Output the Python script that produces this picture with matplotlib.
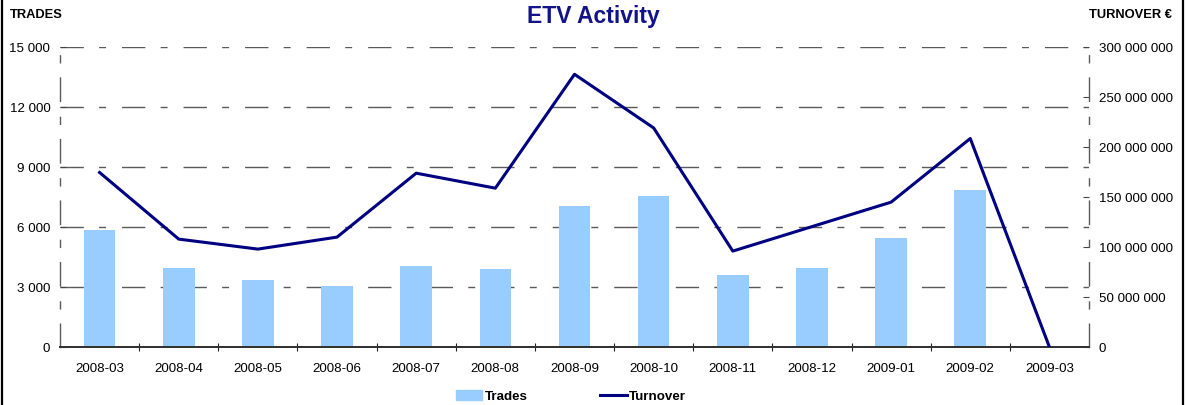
"""
plot.py - ETV Activity: monthly trades (bars) and turnover (line).
"""

import matplotlib
matplotlib.use("Agg")
import matplotlib.pyplot as plt
from matplotlib.lines import Line2D
from matplotlib.ticker import FuncFormatter, MultipleLocator

months = ["2008-03", "2008-04", "2008-05", "2008-06", "2008-07", "2008-08",
          "2008-09", "2008-10", "2008-11", "2008-12", "2009-01", "2009-02",
          "2009-03"]
trades = [5850, 3950, 3350, 3050, 4050, 3900, 7050, 7550, 3600, 3950,
          5450, 7850, 0]
turnover = [174.7e6, 108e6, 98e6, 110e6, 174e6, 159e6, 273e6, 219.3e6,
            96e6, 120.5e6, 145e6, 208.7e6, 0]

BAR_COLOR = "#99CCFF"
LINE_COLOR = "#000080"
GRID_COLOR = "#5a5a5a"
DASH = (0, (16.8, 11.0, 5.0, 11.5))

plt.rcParams["font.family"] = ["Liberation Sans", "DejaVu Sans"]
plt.rcParams["lines.scale_dashes"] = False


def spaced(v, pos):
    return f"{int(round(v)):,}".replace(",", " ")


fig = plt.figure(figsize=(11.86, 4.05), dpi=100)
ax = fig.add_axes([0.0506, 0.1432, 0.8676, 0.74])
ax2 = ax.twinx()

x = list(range(len(months)))
ax.bar(x, trades, width=0.4, color=BAR_COLOR, zorder=2, label="Trades")
ax2.plot(x, turnover, color=LINE_COLOR, lw=2.2, zorder=3, label="Turnover")

ax.set_xlim(-0.5, len(months) - 0.5)
ax.set_ylim(0, 15000)
ax2.set_ylim(0, 300e6)
ax.yaxis.set_major_locator(MultipleLocator(3000))
ax2.yaxis.set_major_locator(MultipleLocator(50e6))
ax.yaxis.set_major_formatter(FuncFormatter(spaced))
ax2.yaxis.set_major_formatter(FuncFormatter(spaced))

ax.set_xticks(x)
ax.set_xticklabels(months)
ax.set_xticks([i + 0.5 for i in x[:-1]], minor=True)
ax.tick_params(axis="x", which="major", length=0, pad=11.5, labelsize=9.6)
ax.tick_params(axis="x", which="minor", direction="inout", length=6,
               width=0.8, color="#222")
ax.tick_params(axis="y", length=4, direction="in", width=0.8, color="#444",
               labelsize=9.6, pad=7)
ax2.tick_params(axis="y", length=4, direction="in", width=0.8, color="#444",
                labelsize=9.6, pad=7)

ax.grid(axis="y", color=GRID_COLOR, lw=1.0, linestyle=DASH, zorder=0)
ax.set_axisbelow(True)

for a in (ax, ax2):
    a.spines["top"].set_visible(False)
    for side in ("left", "right"):
        a.spines[side].set_linestyle(DASH)
        a.spines[side].set_color(GRID_COLOR)
        a.spines[side].set_linewidth(1.0)
    a.spines["bottom"].set_color("#333")
    a.spines["bottom"].set_linewidth(1.4)
ax2.spines["left"].set_visible(False)
ax.spines["right"].set_visible(False)

ax.set_zorder(ax2.get_zorder() - 1)
ax.patch.set_visible(True)
ax2.patch.set_visible(False)

fig.text(0.5, 0.96, "ETV Activity", ha="center", va="center",
         fontsize=16.5, fontweight="bold", color="#12128a")
fig.text(0.0085, 0.962, "TRADES", ha="left", va="center",
         fontsize=9.3, fontweight="bold")
fig.text(0.9885, 0.962, "TURNOVER €", ha="right", va="center",
         fontsize=9.3, fontweight="bold")

handles = [plt.Rectangle((0, 0), 1, 1, color=BAR_COLOR),
           Line2D([], [], color=LINE_COLOR, lw=2.2)]
leg = fig.legend(handles, ["Trades", "Turnover"], loc="center",
                 bbox_to_anchor=(0.4815, 0.021), ncol=2, frameon=False,
                 handlelength=2.0, handletextpad=0.2, columnspacing=5.4,
                 prop={"weight": "bold", "size": 9.6})

for xf in (0.0013, 0.9975):
    fig.add_artist(Line2D([xf, xf], [0, 1], transform=fig.transFigure,
                          color="black", lw=1.6))

fig.savefig("out.png", dpi=100)
print("saved -> out.png")
